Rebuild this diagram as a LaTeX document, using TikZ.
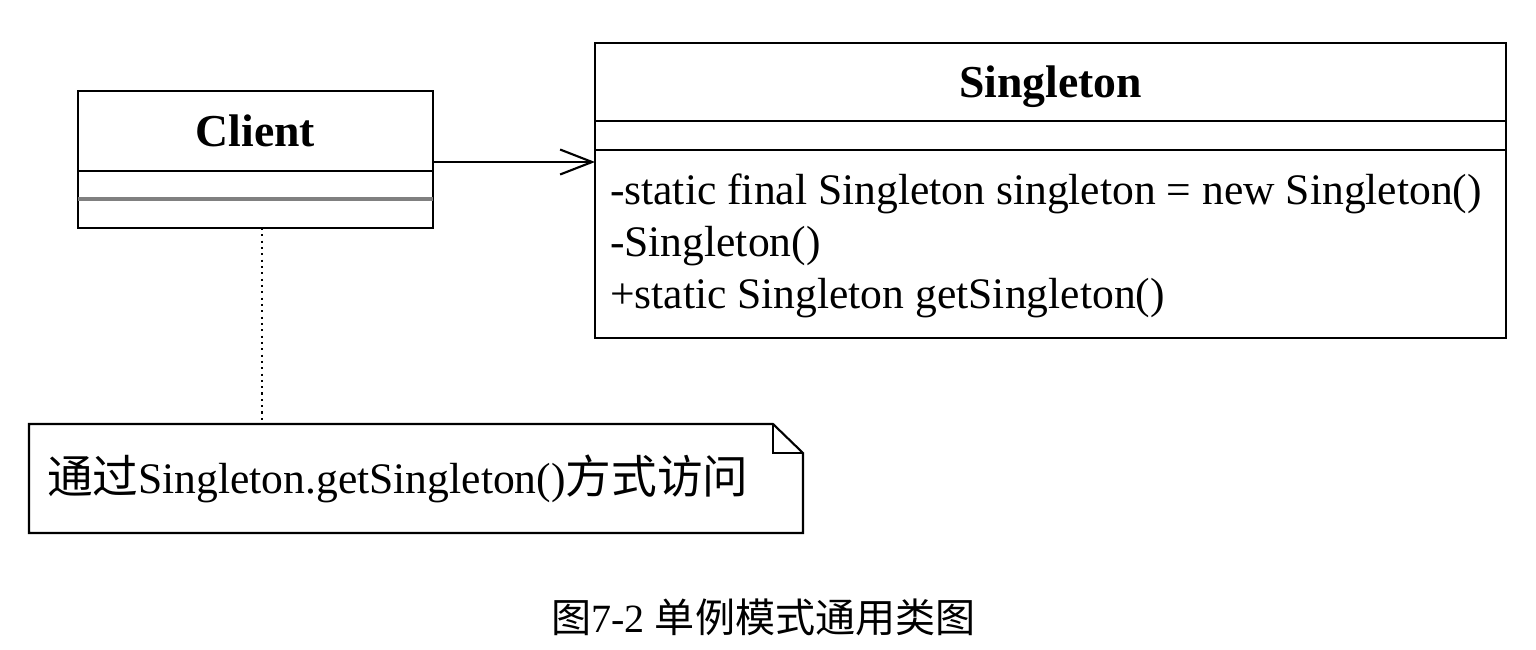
\documentclass[tikz,border=0pt]{standalone}
\usepackage{fontspec}
\setmainfont{Liberation Serif}
\newfontfamily\cjk{Noto Sans CJK SC}
\usetikzlibrary{positioning,arrows.meta}
\tikzset{every node/.style={align=center, inner sep=0pt, outer sep=0pt}, >={Straight Barb[length=3.2mm,width=2.5mm]}, font=\fontsize{12.4}{14.8}\selectfont,
  classhead/.style={draw, line width=0.6pt, font=\fontsize{13}{15}\selectfont\bfseries},
  classpart/.style={draw, line width=0.6pt},
  notebox/.style={align=left, text width=7.38cm, inner xsep=0.18cm, minimum width=7.74cm, minimum height=1.09cm},
  notelink/.style={line width=0.6pt, dash pattern=on 0.6pt off 1.2pt}}

\begin{document}
\begin{tikzpicture}[node distance=0pt]
\useasboundingbox (0,0) rectangle (15.36,-6.49);
            \node [classhead, minimum width=3.55cm, minimum height=0.80cm] (client) at (2.555,-1.31) {Client};
            \node [classpart, minimum width=3.55cm, minimum height=0.28cm] (clientattr) [below=of client] {};
            \node [classpart, minimum width=3.55cm, minimum height=0.29cm] (clientops) [below=of clientattr] {};
            \draw [line width=1pt, gray] (clientattr.south west) -- (clientattr.south east);
            \node [classhead, minimum width=9.11cm, minimum height=0.78cm, text depth=0pt] (single) at (10.505,-0.82) {Singleton};
            \node [classpart, minimum width=9.11cm, minimum height=0.29cm] (singleattr) [below=of single] {};
            \node [classpart, minimum width=9.11cm, minimum height=1.88cm] (singleops) [below=of singleattr] {};
            \node [anchor=west, align=left] (members) at ([xshift=0.15cm,yshift=-0.02cm]singleops.west) {-static final Singleton singleton = new Singleton()\\-Singleton()\\+static Singleton getSingleton()};
            \node [notebox] (note) at (4.16,-4.785) {{\cjk\fontsize{13}{15}\selectfont 通过}Singleton.getSingleton(){\cjk\fontsize{13}{15}\selectfont 方式访问}};
            \draw [line width=0.6pt] (note.north west) -- ([xshift=-0.30cm]note.north east) -- ([yshift=-0.29cm]note.north east) -- (note.south east) -- (note.south west) -- cycle;
            \draw [line width=0.6pt] ([xshift=-0.30cm]note.north east) |- ([yshift=-0.29cm]note.north east);
            \coordinate (link) at ([yshift=-0.31cm]client.east);
            \path[->, line width=0.6pt] (link) edge (link -| single.west);
            \coordinate (anchor) at ([xshift=0.065cm]clientops.south);
            \draw [notelink] (anchor) -- (anchor |- note.north);
            \node (caption) at (7.635,-6.17) {\fontsize{11.4}{14}\selectfont{\cjk 图}7-2 {\cjk 单例模式通用类图}};
        \end{tikzpicture}
\end{document}
